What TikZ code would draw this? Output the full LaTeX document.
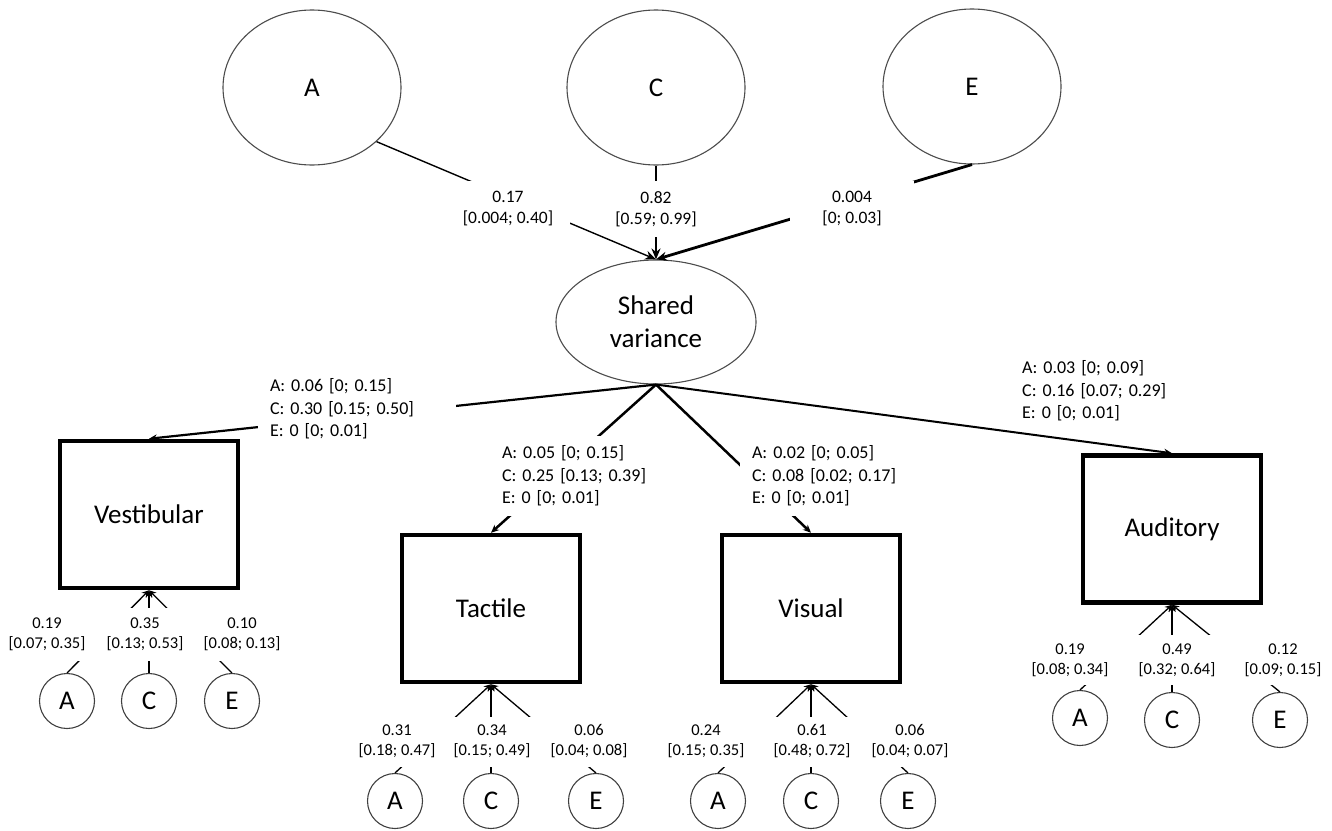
\documentclass[tikz,border=0pt]{standalone}
\usepackage{fontspec}
\setmainfont{Carlito}
\usetikzlibrary{arrows.meta,shapes.geometric}
\begin{document}
\begin{tikzpicture}[x=1pt,y=-1pt,
  bigell/.style={draw=black!70,line width=1.1pt,ellipse,minimum width=178pt,minimum height=155pt,inner sep=0pt,font=\fontsize{27}{33}\selectfont},
  sharedell/.style={draw=black!70,line width=1.1pt,ellipse,minimum width=200pt,minimum height=124pt,inner sep=0pt,align=center,font=\fontsize{27}{33}\selectfont},
  sbox/.style={draw,line width=4.5pt,rectangle,minimum width=178pt,minimum height=147pt,inner sep=0pt,font=\fontsize{27}{33}\selectfont},
  circ/.style={draw=black!75,line width=1.1pt,circle,minimum size=55pt,inner sep=0pt,font=\fontsize{27}{33}\selectfont},
  toplab/.style={fill=white,align=center,inner sep=0pt,minimum width=124pt,minimum height=56pt,font=\fontsize{17.5}{21}\selectfont},
  brlab/.style={fill=white,align=left,inner ysep=0pt,minimum height=80pt,font=\fontsize{18}{22.5}\selectfont},
  botlab/.style={fill=white,align=center,inner sep=0pt,minimum width=108pt,minimum height=53pt,font=\fontsize{16.5}{20}\selectfont},
  toparrow/.style={-{Stealth[length=11pt,width=9pt]}},
  outarrow/.style={-{Stealth[length=8pt,width=7pt]}},
  inarrow/.style={line width=1.3pt,-{Stealth[length=7pt,width=7pt]}}
]
\useasboundingbox (0,0) rectangle (1332,830);

% top latent factors
\node[bigell] (tA) at (312,87.5) {A};
\node[bigell] (tC) at (656,87.5) {C};
\node[bigell] (tE) at (972,86.5) {E};
\node[sharedell] (sh) at (656,322) {Shared\\variance};

% phenotype boxes
\node[sbox] (vest) at (149,514.5) {Vestibular};
\node[sbox] (tact) at (491,608.5) {Tactile};
\node[sbox] (vis) at (811,608.5) {Visual};
\node[sbox] (aud) at (1172,529) {Auditory};

% specific ACE circles
\node[circ] (vA) at (67,701) {A};
\node[circ] (vC) at (149,701) {C};
\node[circ] (vE) at (232,701) {E};
\node[circ] (tcA) at (395,801) {A};
\node[circ] (tcC) at (491,801) {C};
\node[circ] (tcE) at (596,801) {E};
\node[circ] (viA) at (718,801) {A};
\node[circ] (viC) at (811,801) {C};
\node[circ] (viE) at (908,801) {E};
\node[circ] (aA) at (1080,718) {A};
\node[circ] (aC) at (1172,720) {C};
\node[circ] (aE) at (1280,720) {E};

% connectors into shared variance
\draw[toparrow,line width=1.4pt] (tA.-40) -- (sh.north);
\draw[toparrow,line width=2.4pt] (tC.south) -- (sh.north);
\draw[toparrow,line width=2.8pt] (tE.south) -- (sh.north);

% connectors from shared variance
\draw[outarrow,line width=2.2pt] (sh.south) -- (vest.north);
\draw[outarrow,line width=2.5pt] (sh.south) -- (tact.north);
\draw[outarrow,line width=2.5pt] (sh.south) -- (vis.north);
\draw[outarrow,line width=2.0pt] (sh.south) -- (aud.north);

% specific connectors
\foreach \c/\b in {vA/vest,vC/vest,vE/vest,tcA/tact,tcC/tact,tcE/tact,viA/vis,viC/vis,viE/vis,aA/aud,aC/aud,aE/aud}
  \draw[inarrow] (\c.north) -- (\b.south);

% labels (white background hides the line behind)
\node[toplab] (lA) at (508,209) {0.17\\{[0.004; 0.40]}};
\node[toplab,minimum width=0pt,inner xsep=2pt] (lC) at (656,209) {0.82\\{[0.59; 0.99]}};
\node[toplab] (lE) at (852,209) {0.004\\{[0; 0.03]}};

\node[brlab,text width=174pt,inner xsep=12pt] (lvest) at (357,409) {A: 0.06 [0; 0.15]\\C: 0.30 [0.15; 0.50]\\E: 0 [0; 0.01]};
\node[brlab,text width=145pt,inner xsep=8pt] (ltact) at (574.5,476) {A: 0.05 [0; 0.15]\\C: 0.25 [0.13; 0.39]\\E: 0 [0; 0.01]};
\node[brlab,text width=145pt,inner xsep=12pt] (lvis) at (824.5,476) {A: 0.02 [0; 0.05]\\C: 0.08 [0.02; 0.17]\\E: 0 [0; 0.01]};
\node[brlab,text width=160pt,inner xsep=0pt,minimum height=0pt,anchor=west] (laud) at (1022,391) {A: 0.03 [0; 0.09]\\C: 0.16 [0.07; 0.29]\\E: 0 [0; 0.01]};

\node[botlab] (lvA) at (47,634.5) {0.19\\{[0.07; 0.35]}};
\node[botlab] (lvC) at (145,634.5) {0.35\\{[0.13; 0.53]}};
\node[botlab] (lvE) at (242,634.5) {0.10\\{[0.08; 0.13]}};
\node[botlab,minimum height=50pt] (ltA) at (397,741.5) {0.31\\{[0.18; 0.47]}};
\node[botlab,minimum height=50pt] (ltC) at (492,741.5) {0.34\\{[0.15; 0.49]}};
\node[botlab,minimum height=50pt] (ltE) at (589,741.5) {0.06\\{[0.04; 0.08]}};
\node[botlab,minimum height=50pt] (liA) at (706,741.5) {0.24\\{[0.15; 0.35]}};
\node[botlab,minimum height=50pt] (liC) at (812,741.5) {0.61\\{[0.48; 0.72]}};
\node[botlab,minimum height=50pt] (liE) at (910,741.5) {0.06\\{[0.04; 0.07]}};
\node[botlab,minimum height=50pt] (laA) at (1070,660) {0.19\\{[0.08; 0.34]}};
\node[botlab,minimum height=50pt] (laC) at (1177,660) {0.49\\{[0.32; 0.64]}};
\node[botlab,minimum height=50pt] (laE) at (1283,660) {0.12\\{[0.09; 0.15]}};
\end{tikzpicture}
\end{document}
